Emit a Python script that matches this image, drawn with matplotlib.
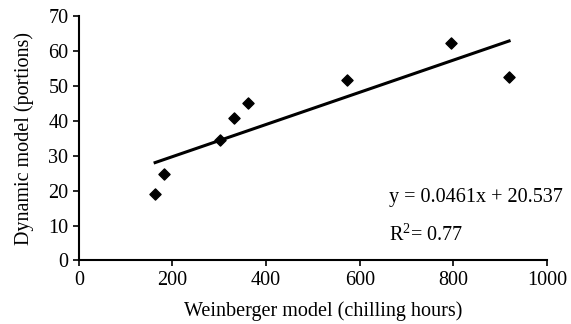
import matplotlib.pyplot as plt
import numpy as np

plt.rcParams['font.family'] = ['Liberation Serif', 'DejaVu Serif']

# chilling requirement per cultivar
weinberger = [163, 181, 302, 332, 362, 573, 794, 919]
dynamic = [19.0, 24.8, 34.5, 40.7, 45.0, 51.7, 62.3, 52.5]

slope = 0.0461
intercept = 20.537
r2 = 0.77

fig, ax = plt.subplots(figsize=(5.71, 3.24), dpi=100)
fig.subplots_adjust(left=0.138, right=0.958, top=0.95, bottom=0.196)

ax.scatter(weinberger, dynamic, marker='D', s=32, color='black', zorder=3)

xfit = np.array([min(weinberger), max(weinberger)])
ax.plot(xfit, slope * xfit + intercept, color='black', lw=2.2)

ax.set_xlim(0, 1000)
ax.set_ylim(0, 70)
ax.set_xticks(range(0, 1001, 200))
ax.set_yticks(range(0, 71, 10))
ax.tick_params(direction='out', length=4, width=1.2, labelsize=14.5)
for side in ['top', 'right']:
    ax.spines[side].set_visible(False)
for side in ['left', 'bottom']:
    ax.spines[side].set_linewidth(1.5)

ax.set_xlabel('Weinberger model (chilling hours)', fontsize=14.5)
ax.xaxis.set_label_coords(0.523, -0.165)
ax.xaxis.label.set_va('top')
ax.set_ylabel('Dynamic model (portions)', fontsize=14.5, labelpad=10)

ax.text(0.663, 0.24, 'y = 0.0461x + 20.537', transform=ax.transAxes, fontsize=14.5)
ax.text(0.663, 0.08, '$\\mathregular{R^2}$= 0.77', transform=ax.transAxes, fontsize=14.5)

fig.savefig('out.png')
